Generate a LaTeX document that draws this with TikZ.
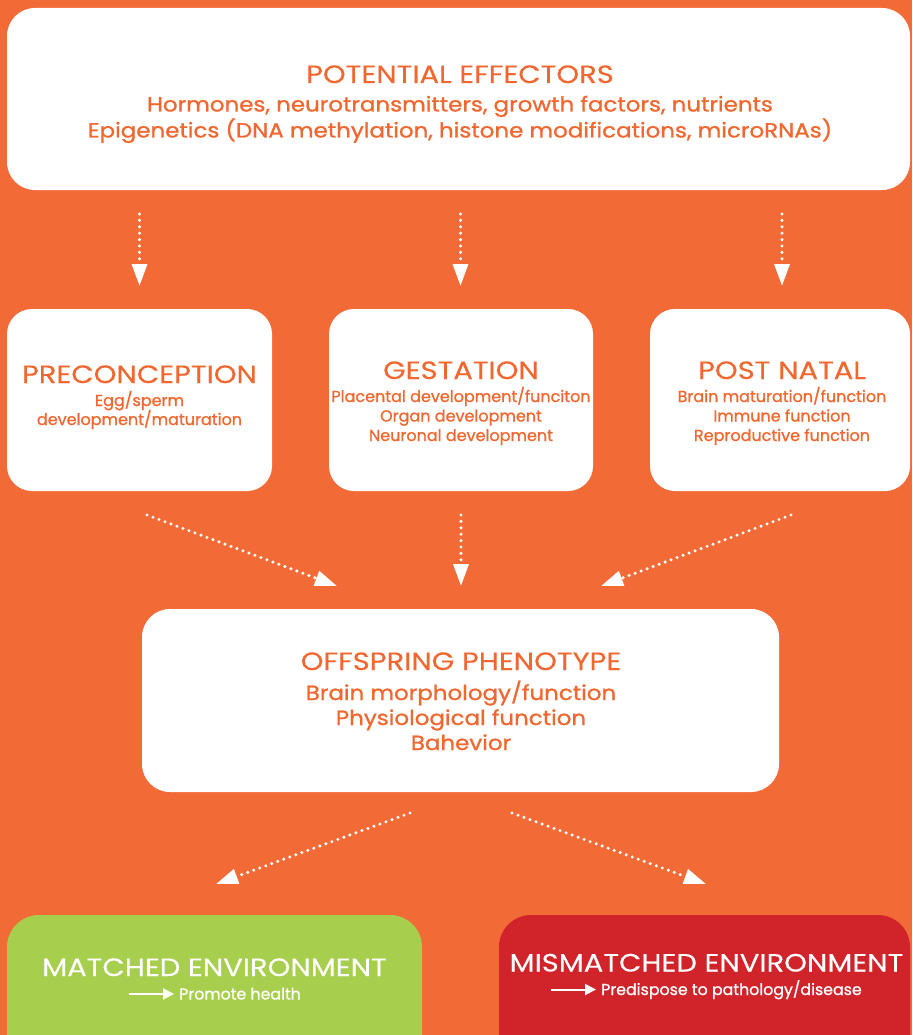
\documentclass[tikz,border=0pt]{standalone}
\usepackage{fontspec}
\setmainfont{Poppins}
\newfontfamily\headfont[FakeStretch=1.16,FakeBold=0.3]{Poppins}
\newfontfamily\medfont[FakeStretch=1.12,FakeBold=1]{Poppins}
\newfontfamily\smfont[FakeBold=1]{Poppins}
\usetikzlibrary{arrows.meta,calc}
\definecolor{bgor}{HTML}{F26A35}
\definecolor{txor}{HTML}{F0672F}
\definecolor{grn}{HTML}{A8CE4E}
\definecolor{rd}{HTML}{D0232A}
\begin{document}
\begin{tikzpicture}[x=1pt,y=-1pt,
  box/.style={fill=white, rounded corners=28pt, draw=none, inner sep=0pt},
  head/.style={text=txor, font=\headfont\fontsize{25}{28}\selectfont, inner sep=0pt, anchor=base},
  subA/.style={text=txor, font=\medfont\fontsize{20.5}{23}\selectfont, inner sep=0pt, anchor=base},
  subB/.style={text=txor, font=\smfont\fontsize{16}{18}\selectfont, inner sep=0pt, anchor=base},
  whead/.style={text=white, font=\headfont\fontsize{25}{28}\selectfont, inner sep=0pt, anchor=base},
  wsub/.style={text=white, font=\smfont\fontsize{15.8}{18}\selectfont, inner sep=0pt, anchor=base west},
  dotarrow/.style={white, line width=3.4pt, line cap=round, dash pattern=on 0pt off 6.4pt,
    -{Triangle[length=22pt,width=15pt]}},
  smallarrow/.style={white, line width=2pt, -{Triangle[length=11pt,width=11pt]}}
]
\useasboundingbox (0,0) rectangle (912,1035);
\fill[bgor] (0,0) rectangle (912,1035);

% boxes
\node[box, minimum width=903pt, minimum height=182pt] (top) at (458.5,99) {};
\node[box, rounded corners=25pt, minimum width=265pt, minimum height=182pt] (pre) at (139.5,400) {};
\node[box, rounded corners=25pt, minimum width=264pt, minimum height=182pt] (ges) at (461,400) {};
\node[box, rounded corners=25pt, minimum width=260pt, minimum height=182pt] (post) at (780,400) {};
\node[box, minimum width=637pt, minimum height=183pt] (off) at (460.5,700.5) {};
\node[box, fill=grn, rounded corners=32pt, minimum width=415pt, minimum height=160pt] (match) at (214.5,995) {};
\node[box, fill=rd, rounded corners=32pt, minimum width=411pt, minimum height=160pt] (mis) at (704.5,995) {};

% texts
\node[head] (t1) at (460,83) {POTENTIAL EFFECTORS};
\node[subA] (t2) at (460,111.5) {Hormones, neurotransmitters, growth factors, nutrients};
\node[subA] (t3) at (460,137.5) {Epigenetics (DNA methylation, histone modifications, microRNAs)};

\node[head] (p1) at (139.5,383) {PRECONCEPTION};
\node[subB] (p2) at (139.5,406) {Egg/sperm};
\node[subB] (p3) at (139.5,425) {development/maturation};

\node[head] (g1) at (461,379) {GESTATION};
\node[subB] (g2) at (461,402) {Placental development/funciton};
\node[subB] (g3) at (461,421.5) {Organ development};
\node[subB] (g4) at (461,441) {Neuronal development};

\node[head] (n1) at (782,379) {POST NATAL};
\node[subB] (n2) at (782,402) {Brain maturation/function};
\node[subB] (n3) at (782,421.5) {Immune function};
\node[subB] (n4) at (782,441) {Reproductive function};

\node[head] (o1) at (461,670) {OFFSPRING PHENOTYPE};
\node[subA] (o2) at (461,700) {Brain morphology/function};
\node[subA] (o3) at (461,725) {Physiological function};
\node[subA] (o4) at (461,750) {Bahevior};

\node[whead] (m1) at (214.5,976) {MATCHED ENVIRONMENT};
\node[wsub] (m2) at (179,999.5) {Promote health};
\node[whead] (x1) at (706.5,971.5) {MISMATCHED ENVIRONMENT};
\node[wsub] (x2) at (601,995) {Predispose to pathology/disease};

\draw[smallarrow] ([xshift=-50pt,yshift=5.5pt]m2.base west) -- ([xshift=-5pt,yshift=5.5pt]m2.base west);
\draw[smallarrow] ([xshift=-50pt,yshift=5.5pt]x2.base west) -- ([xshift=-5pt,yshift=5.5pt]x2.base west);

% dotted arrows
\coordinate (a1s) at (139.5,214); \coordinate (a1e) at (139.5,286);
\coordinate (a2s) at (460.5,214); \coordinate (a2e) at (460.5,286);
\coordinate (a3s) at (782,214);   \coordinate (a3e) at (782,286);
\draw[dotarrow] (a1s) -- (a1e);
\draw[dotarrow] (a2s) -- (a2e);
\draw[dotarrow] (a3s) -- (a3e);

\coordinate (b1s) at (147,515); \coordinate (b1e) at (337,586);
\coordinate (b2s) at (461,515); \coordinate (b2e) at (461,586);
\coordinate (b3s) at (791,515); \coordinate (b3e) at (601,586);
\draw[dotarrow] (b1s) -- (b1e);
\draw[dotarrow] (b2s) -- (b2e);
\draw[dotarrow] (b3s) -- (b3e);

\coordinate (c1s) at (410,813); \coordinate (c1e) at (216,884);
\coordinate (c2s) at (512,813); \coordinate (c2e) at (706,884);
\draw[dotarrow] (c1s) -- (c1e);
\draw[dotarrow] (c2s) -- (c2e);
\end{tikzpicture}
\end{document}
